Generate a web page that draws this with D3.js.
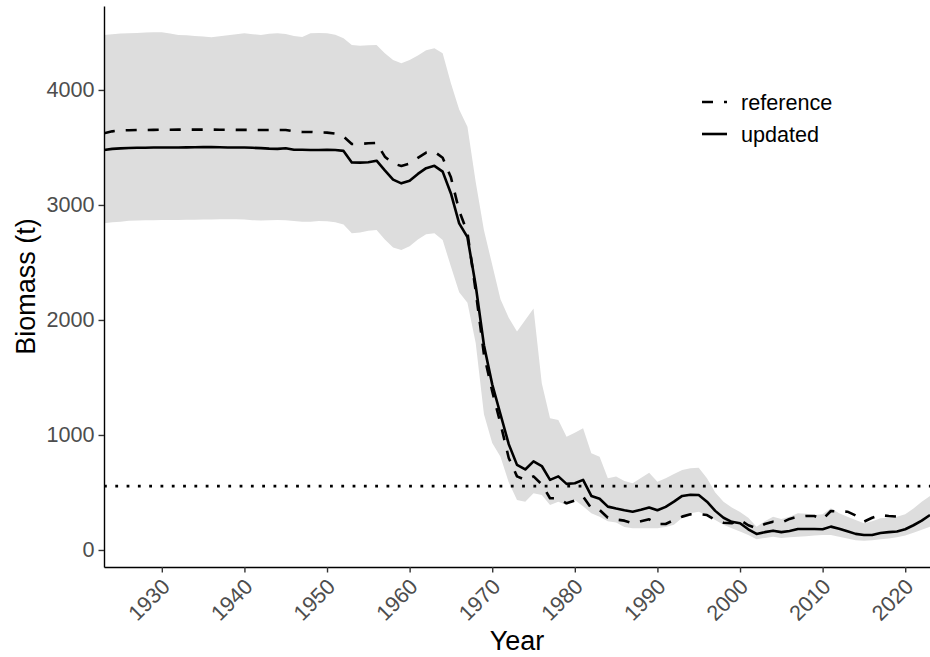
<!DOCTYPE html>
<html>
<head>
<meta charset="utf-8">
<script src="https://cdn.jsdelivr.net/npm/d3@7"></script>
<style>
  html, body { margin: 0; padding: 0; background: #fff; }
  svg { display: block; font-family: "Liberation Sans", Arial, sans-serif; }
</style>
</head>
<body>
<svg id="chart" width="930" height="657"></svg>
<script>
// ---------------- data ----------------
const startYear = 1923;
const updated = [
  3478, 3488, 3492, 3495, 3497, 3498, 3499, 3500, 3500, 3500,   // 1923-1932
  3501, 3502, 3503, 3504, 3502, 3500, 3500, 3499, 3497, 3494,   // 1933-1942
  3490, 3488, 3493, 3480, 3480, 3478, 3478, 3480, 3478, 3470,   // 1943-1952
  3370, 3368, 3372, 3385, 3300, 3220, 3188, 3210, 3270, 3320,   // 1953-1962
  3340, 3290, 3100, 2840, 2720, 2300, 1780, 1440, 1180, 920,    // 1963-1972
  740, 700, 770, 730, 610, 640, 575, 580, 610, 470,             // 1973-1982
  445, 377, 360, 345, 333, 350, 370, 345, 375, 420,             // 1983-1992
  470, 480, 478, 420, 340, 280, 245, 232, 180, 139,             // 1993-2002
  155, 168, 155, 165, 182, 182, 182, 180, 203, 185,             // 2003-2012
  162, 140, 130, 130, 148, 155, 160, 180, 215, 255,             // 2013-2022
  304                                                           // 2023
];
const reference = [
  3623, 3640, 3648, 3650, 3652, 3652, 3653, 3654, 3654, 3655,   // 1923-1932
  3655, 3655, 3655, 3655, 3654, 3654, 3653, 3653, 3652, 3652,   // 1933-1942
  3652, 3652, 3652, 3640, 3635, 3635, 3630, 3629, 3620, 3594,   // 1943-1952
  3530, 3530, 3536, 3540, 3420, 3360, 3339, 3360, 3410, 3455,   // 1953-1962
  3464, 3410, 3240, 2950, 2760, 2250, 1700, 1380, 1100, 800,    // 1963-1972
  640, 610, 640, 570, 450, 449, 406, 430, 464, 362,             // 1973-1982
  348, 280, 265, 255, 232, 250, 267, 226, 226, 260,             // 1983-1992
  290, 310, 313, 304, 260, 237, 232, 261, 215, 189,             // 1993-2002
  226, 246, 237, 270, 290, 296, 296, 267, 339, 335,             // 2003-2012
  333, 300, 246, 280, 304, 295, 290, 290                        // 2013-2020
];
const upper = [
  4478, 4485, 4490, 4492, 4495, 4500, 4502, 4502, 4490, 4478,   // 1923-1932
  4475, 4470, 4465, 4458, 4468, 4475, 4485, 4493, 4485, 4478,   // 1933-1942
  4488, 4493, 4486, 4470, 4460, 4493, 4495, 4493, 4480, 4449,   // 1943-1952
  4390, 4385, 4388, 4391, 4320, 4260, 4232, 4260, 4300, 4345,   // 1953-1962
  4362, 4319, 4058, 3830, 3680, 3200, 2780, 2480, 2180, 2020,   // 1963-1972
  1900, 2000, 2100, 1450, 1145, 1130, 985, 1020, 1058, 841,     // 1973-1982
  811, 623, 640, 600, 580, 625, 672, 594, 623, 660,             // 1983-1992
  696, 710, 716, 623, 500, 420, 370, 330, 280, 203,             // 1993-2002
  250, 290, 270, 290, 319, 315, 304, 310, 362, 320,             // 2003-2012
  290, 260, 232, 250, 275, 280, 290, 310, 360, 420,             // 2013-2022
  470                                                           // 2023
];
const lower = [
  2841, 2850, 2855, 2862, 2864, 2866, 2868, 2870, 2870, 2870,   // 1923-1932
  2872, 2872, 2873, 2874, 2875, 2876, 2876, 2874, 2868, 2864,   // 1933-1942
  2866, 2870, 2868, 2860, 2855, 2855, 2860, 2858, 2850, 2830,   // 1943-1952
  2754, 2760, 2775, 2783, 2700, 2630, 2609, 2640, 2700, 2745,   // 1953-1962
  2754, 2696, 2464, 2240, 2150, 1800, 1180, 930, 811, 590,      // 1963-1972
  435, 420, 493, 478, 391, 420, 391, 435, 380, 320,             // 1973-1982
  290, 250, 240, 200, 189, 189, 189, 189, 200, 220,             // 1983-1992
  280, 320, 333, 300, 261, 220, 189, 160, 130, 93,              // 1993-2002
  105, 116, 105, 110, 116, 120, 125, 130, 130, 115,             // 2003-2012
  100, 85, 81, 85, 93, 100, 110, 125, 150, 175,                 // 2013-2022
  203                                                           // 2023
];
const threshold = 556;
const xTicks = [1930, 1940, 1950, 1960, 1970, 1980, 1990, 2000, 2010, 2020];
const yTicks = [0, 1000, 2000, 3000, 4000];
const seriesNames = ["reference", "updated"];

// ---------------- layout ----------------
const svg = d3.select("#chart");
const panel = { left: 104, right: 930, top: 6, bottom: 567 };

const x = d3.scaleLinear().domain([1923, 2023]).range([panel.left, panel.right]);
const y = d3.scaleLinear().domain([-148, 4730]).range([panel.bottom, panel.top]);

const upd = updated.map((v, i) => ({ year: startYear + i, v }));
const ref = reference.map((v, i) => ({ year: startYear + i, v }));
const band = upper.map((v, i) => ({ year: startYear + i, hi: v, lo: lower[i] }));

svg.append("defs").append("clipPath").attr("id", "clip")
  .append("rect")
  .attr("x", panel.left).attr("y", panel.top)
  .attr("width", panel.right - panel.left).attr("height", panel.bottom - panel.top);

const g = svg.append("g").attr("clip-path", "url(#clip)");

g.append("path")
  .datum(band)
  .attr("fill", "#DDDDDD")
  .attr("d", d3.area().x(d => x(d.year)).y0(d => y(d.lo)).y1(d => y(d.hi)));

g.append("line")
  .attr("x1", panel.left).attr("x2", panel.right)
  .attr("y1", y(threshold)).attr("y2", y(threshold))
  .attr("stroke", "#000").attr("stroke-width", 2.8)
  .attr("stroke-dasharray", "2.8,8.5");

const line = d3.line().x(d => x(d.year)).y(d => y(d.v));

g.append("path").datum(ref)
  .attr("fill", "none").attr("stroke", "#000").attr("stroke-width", 2.6)
  .attr("stroke-dasharray", "11,11").attr("stroke-linejoin", "round")
  .attr("d", line);

g.append("path").datum(upd)
  .attr("fill", "none").attr("stroke", "#000").attr("stroke-width", 2.6)
  .attr("stroke-linejoin", "round")
  .attr("d", line);

// ---------------- axes ----------------
const yAxis = svg.append("g")
  .attr("transform", `translate(${panel.left},0)`)
  .call(d3.axisLeft(y).tickValues(yTicks).tickSize(5.5).tickSizeOuter(0).tickPadding(4).tickFormat(d3.format("d")));
yAxis.select(".domain").attr("stroke", "#000").attr("stroke-width", 1.4);
yAxis.selectAll(".tick line").attr("stroke", "#333").attr("stroke-width", 1.4);
yAxis.selectAll(".tick text")
  .attr("fill", "#4D4D4D").style("font-size", "21.6px")
  .style("font-family", "'Liberation Sans', Arial, sans-serif");

const xAxis = svg.append("g")
  .attr("transform", `translate(0,${panel.bottom})`)
  .call(d3.axisBottom(x).tickValues(xTicks).tickSize(5.5).tickSizeOuter(0).tickFormat(d3.format("d")));
xAxis.select(".domain").attr("stroke", "#000").attr("stroke-width", 1.4);
xAxis.selectAll(".tick line").attr("stroke", "#333").attr("stroke-width", 1.4);
xAxis.selectAll(".tick text")
  .attr("fill", "#4D4D4D").style("font-size", "21.6px")
  .style("font-family", "'Liberation Sans', Arial, sans-serif")
  .attr("text-anchor", "end")
  .attr("dy", null)
  .attr("y", 0).attr("x", 0)
  .attr("transform", "translate(9,21) rotate(-45)");

// axis titles
svg.append("text")
  .attr("x", (panel.left + panel.right) / 2).attr("y", 650)
  .attr("text-anchor", "middle").style("font-size", "27px").attr("fill", "#000")
  .text("Year");

svg.append("text")
  .attr("transform", `translate(35,${(panel.top + panel.bottom) / 2}) rotate(-90)`)
  .attr("text-anchor", "middle").style("font-size", "27px").attr("fill", "#000")
  .text("Biomass (t)");

// ---------------- legend ----------------
const legend = svg.append("g").attr("transform", "translate(702,0)");
const legendRows = [
  { name: seriesNames[0], y: 102, dash: "11,11" },
  { name: seriesNames[1], y: 134, dash: null }
];
legendRows.forEach(r => {
  legend.append("line")
    .attr("x1", 0).attr("x2", 25).attr("y1", r.y).attr("y2", r.y)
    .attr("stroke", "#000").attr("stroke-width", 2.6)
    .attr("stroke-dasharray", r.dash);
  legend.append("text")
    .attr("x", 39).attr("y", r.y).attr("dy", "0.35em")
    .style("font-size", "21.6px").attr("fill", "#000")
    .text(r.name);
});
</script>
</body>
</html>
